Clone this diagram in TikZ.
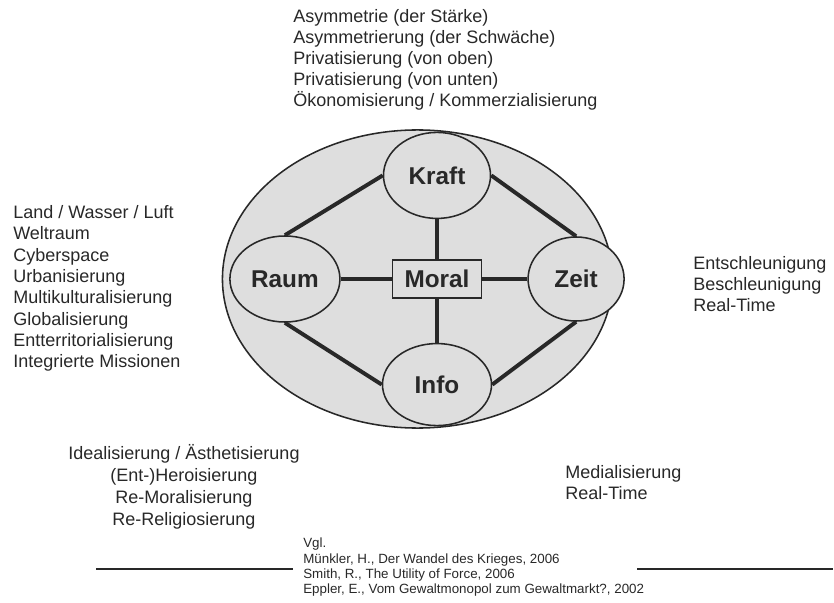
\documentclass[tikz,border=0pt]{standalone}
\usepackage{fontspec}
\setmainfont{Liberation Sans}
\usetikzlibrary{shapes.geometric,positioning}
\definecolor{hellgrau}{RGB}{222,222,222}
\definecolor{tinte}{RGB}{40,40,40}

\begin{document}
\begin{tikzpicture}[x=.025cm, y=-.025cm,
	kreis/.style={ellipse, draw=tinte, line width=1.1pt, fill=hellgrau, inner sep=0pt, text=tinte, font=\fontsize{17.3}{20}\selectfont\bfseries},
	verbindung/.style={draw=tinte, line width=2.8pt},
	liste/.style={inner sep=0pt, text=tinte, align=left, anchor=north west},
	mitte/.style={inner sep=0pt, text=tinte, align=center, anchor=north},
	]
	\useasboundingbox (0,0) rectangle (834,603);
	
	% grosser Rahmen
	\node[ellipse, draw=tinte, line width=1.1pt, fill=hellgrau, minimum width=9.75cm, minimum height=7.45cm] (Rahmen) at (417.5,279) {};
	
	\node[draw=tinte, line width=1.1pt, fill=hellgrau, minimum width=2.225cm, minimum height=0.95cm, inner sep=0pt, text=tinte, font=\fontsize{17.3}{20}\selectfont\bfseries] (Moral) at (437,279) {Moral};
	\node[kreis, minimum width=2.675cm, minimum height=2.15cm, above=1cm of Moral] (Kraft) {Kraft};
	\node[kreis, minimum width=2.725cm, minimum height=2.05cm, below=1.1cm of Moral] (Info) {Info};
	\node[kreis, minimum width=2.75cm, minimum height=2.15cm, left=1.275cm of Moral] (Raum) {Raum};
	\node[kreis, minimum width=2.4cm, minimum height=2.1cm, right=1.125cm of Moral] (Zeit) {Zeit};
	
	\draw[verbindung] (Kraft.west) -- (Raum.north);
	\draw[verbindung] (Kraft.east) -- (Zeit.north);
	\draw[verbindung] (Raum.south) -- (Info.west);
	\draw[verbindung] (Info.east) -- (Zeit.south);
	\draw[verbindung] (Kraft.south) -- (Moral.north);
	\draw[verbindung] (Moral.south) -- (Info.north);
	\draw[verbindung] (Raum.east) -- (Moral.west);
	\draw[verbindung] (Moral.east) -- (Zeit.west);
	
	% Listen
	\node[liste, font=\fontsize{12.8}{14.9}\selectfont] (KraftListe) at (293,9) {Asymmetrie (der Stärke)\\Asymmetrierung (der Schwäche)\\Privatisierung (von oben)\\Privatisierung (von unten)\\Ökonomisierung / Kommerzialisierung};
	\node[liste, font=\fontsize{12.8}{15.2}\selectfont] (RaumListe) at (13,205) {Land / Wasser / Luft\\Weltraum\\Cyberspace\\Urbanisierung\\Multikulturalisierung\\Globalisierung\\Entterritorialisierung\\Integrierte Missionen};
	\node[liste, font=\fontsize{12.8}{14.9}\selectfont] (ZeitListe) at (693,256) {Entschleunigung\\Beschleunigung\\Real-Time};
	\node[mitte, font=\fontsize{12.8}{15.6}\selectfont] (MoralListe) at (184,444) {Idealisierung / Ästhetisierung\\(Ent-)Heroisierung\\Re-Moralisierung\\Re-Religiosierung};
	\node[liste, font=\fontsize{12.8}{15.2}\selectfont] (InfoListe) at (565,465) {Medialisierung\\Real-Time};
	
	% Quellen
	\node[liste, font=\fontsize{9.5}{10.9}\selectfont] (Quellen) at (303,538) {Vgl.\\Münkler, H., Der Wandel des Krieges, 2006\\Smith, R., The Utility of Force, 2006\\Eppler, E., Vom Gewaltmonopol zum Gewaltmarkt?, 2002};
	\coordinate (LinksA) at (96,569);
	\coordinate (LinksB) at (293,569);
	\coordinate (RechtsA) at (637,569);
	\coordinate (RechtsB) at (833,569);
	\draw[tinte, line width=1pt] (LinksA) -- (LinksB);
	\draw[tinte, line width=1pt] (RechtsA) -- (RechtsB);
\end{tikzpicture}
\end{document}
